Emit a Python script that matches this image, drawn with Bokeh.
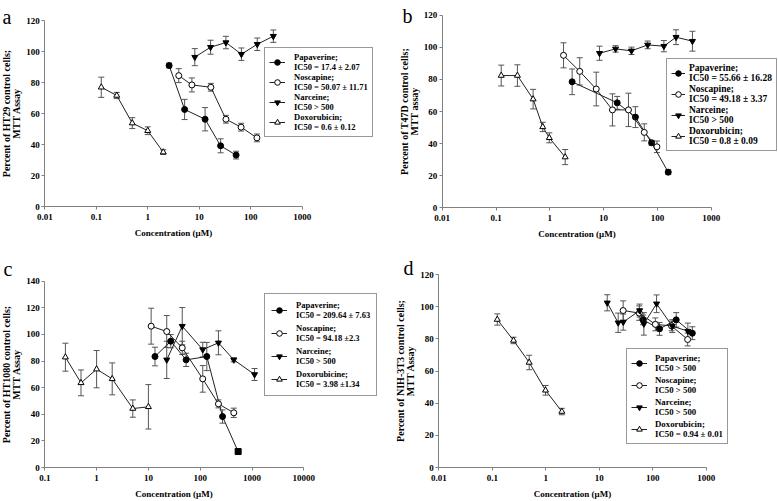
import math
from bokeh.plotting import figure
from bokeh.models import ColumnDataSource, Whisker, TeeHead, Legend, LegendItem, Label, FixedTicker
from bokeh.layouts import column, row
from bokeh.embed import file_html
from bokeh.resources import INLINE

FONT = "Liberation Serif"

# ---------------- Panel a : HT29 ----------------
a_pap_x = [2.6, 5.2, 13, 26, 52]
a_pap_y = [91, 62.7, 56.4, 39.3, 33.3]
a_pap_e = [1.5, 6.5, 7.5, 4.5, 2.5]
a_nos_x = [4, 7.2, 16.8, 33, 65, 132]
a_nos_y = [84.5, 78.5, 77, 56.4, 51.3, 44.4]
a_nos_e = [4.5, 4.5, 2.5, 2.5, 2.5, 2.5]
a_nar_x = [8.2, 16.6, 33, 66, 134, 275]
a_nar_y = [96.4, 102.8, 105.8, 98.3, 104.7, 109.9]
a_nar_e = [5.5, 4.5, 4, 4, 4, 4]
a_dox_x = [0.125, 0.25, 0.5, 1, 2]
a_dox_y = [77, 71.7, 53.9, 49, 35.2]
a_dox_e = [6.5, 2, 3.5, 2.5, 1.5]
a_labels = ["Papaverine;\nIC50 = 17.4 \u00b1 2.07", "Noscapine;\nIC50 = 50.07 \u00b1 11.71",
            "Narceine;\nIC50 > 500", "Doxorubicin;\nIC50 = 0.6 \u00b1 0.12"]

# ---------------- Panel b : T47D ----------------
b_pap_x = [2.6, 17.9, 39, 78, 159]
b_pap_y = [78.5, 65.4, 56.5, 40.5, 22.2]
b_pap_e = [8, 4, 6.5, 1.5, 1.5]
b_nos_x = [1.8, 3.6, 7.3, 14.6, 29, 57, 98]
b_nos_y = [95, 85, 74, 61, 61, 47, 38]
b_nos_e = [7.8, 8.5, 10.5, 10, 10.4, 5.3, 3.6]
b_nar_x = [8.4, 16.7, 33, 66, 132, 222, 448]
b_nar_y = [96.3, 99, 97.8, 101.5, 100.7, 106.3, 103.8]
b_nar_e = [4.4, 2, 2.3, 2.4, 3.5, 4.6, 6.2]
b_dox_x = [0.125, 0.25, 0.49, 0.74, 0.98, 1.93]
b_dox_y = [82.4, 82.4, 67.7, 50.4, 43.6, 31.6]
b_dox_e = [6.5, 6.7, 6.1, 2.9, 3.1, 4.7]
b_labels = ["Papaverine;\nIC50 = 55.66 \u00b1 16.28", "Noscapine;\nIC50 = 49.18 \u00b1 3.37",
            "Narceine;\nIC50 > 500", "Doxorubicin;\nIC50 = 0.8 \u00b1 0.09"]

# ---------------- Panel c : HT1080 ----------------
c_pap_x = [13.4, 27, 53.5, 134, 270, 540]
c_pap_y = [83.4, 94.9, 80.9, 83.4, 38.3, 12]
c_pap_e = [7, 5, 5, 10.6, 5, 0]
c_pap_m = ["circle", "circle", "circle", "circle", "circle", "square"]
c_nos_x = [11.3, 22.6, 45, 112, 225, 445]
c_nos_y = [106.2, 102.2, 89.9, 66.6, 47.8, 41.1]
c_nos_e = [13.5, 12, 5, 10, 3, 3.5]
c_nar_x = [22.6, 45, 112, 225, 445, 1120]
c_nar_y = [80.9, 106.2, 88.6, 93.7, 80.9, 69.9]
c_nar_e = [14, 14, 5.5, 9, 1.5, 4.5]
c_dox_x = [0.25, 0.5, 1, 2, 5, 10]
c_dox_y = [82.9, 63.6, 73.9, 66.6, 44.3, 45.6]
c_dox_e = [10.5, 9.7, 14, 12, 6.5, 16.7]
c_labels = ["Papaverine;\nIC50 = 209.64 \u00b1 7.63", "Noscapine;\nIC50 = 94.18 \u00b12.3",
            "Narceine;\nIC50 > 500", "Doxorubicine;\nIC50 = 3.98 \u00b11.34"]

# ---------------- Panel d : NIH-3T3 ----------------
d_pap_x = [66, 134, 275, 550]
d_pap_y = [91.8, 86.2, 91.8, 83.5]
d_pap_e = [3, 4, 4.5, 4]
d_nos_x = [28, 56, 112, 225, 450]
d_nos_y = [97.6, 96, 89, 88, 79.6]
d_nos_e = [6, 4.5, 4, 3, 4]
d_nar_x = [14.1, 22.6, 28.1, 56.8, 68.3, 118, 232, 454]
d_nar_y = [102.4, 90, 90.4, 97.6, 89.3, 101.8, 87.9, 84.8]
d_nar_e = [5, 6, 5, 4, 7, 5.5, 4, 5]
d_dox_x = [0.124, 0.25, 0.49, 0.99, 2]
d_dox_y = [92, 79, 65.3, 48, 34.8]
d_dox_e = [3.5, 2, 4.5, 3, 2]
d_labels = ["Papaverine;\nIC50 > 500", "Noscapine;\nIC50 > 500",
            "Narceine;\nIC50 > 500", "Doxorubicin;\nIC50 = 0.94 \u00b1 0.01"]

ticks_a = [0.01, 0.1, 1, 10, 100, 1000]
ticks_c = [0.1, 1, 10, 100, 1000, 10000]
tick_text_a = ["0.01", "0.1", "1", "10", "100", "1000"]
tick_text_c = ["0.1", "1", "10", "100", "1000", "10000"]

STYLES = [("circle", "black"), ("circle", "white"), ("inverted_triangle", "black"), ("triangle", "white")]


def x_range_for(fig_l, fig_r, px0, px1, v0, v1):
    a0, a1 = math.log10(v0), math.log10(v1)
    s = (a1 - a0) / (px1 - px0)
    return (10 ** (a0 - (px0 - fig_l) * s), 10 ** (a1 + (fig_r - px1) * s))


def y_range_for(fig_t, fig_b, py0, py1, v0, v1):
    s = (v1 - v0) / (py0 - py1)
    return (v0 - (fig_b - py0) * s, v1 + (py1 - fig_t) * s)


def make_panel(letter, ytitle, series, labels, xticks, xtick_text, ymax,
               fig_box, xmap, ymap, legend_loc, legend_style, letter_pos):
    l, t, r, b = fig_box
    xr = x_range_for(l, r, xmap[0], xmap[1], xticks[0], xticks[-1])
    yr = y_range_for(t, b, ymap[0], ymap[1], 0, ymax)
    p = figure(width=r - l, height=b - t, x_axis_type="log", x_range=xr, y_range=yr,
               output_backend="svg", toolbar_location=None,
               min_border_left=0, min_border_right=0, min_border_top=0, min_border_bottom=0)
    p.grid.visible = False
    p.outline_line_color = None
    p.xaxis.ticker = FixedTicker(ticks=xticks, minor_ticks=[])
    p.xaxis.major_label_overrides = {tk: s for tk, s in zip(xticks, xtick_text)}
    p.yaxis.ticker = FixedTicker(ticks=list(range(0, ymax + 1, 20)), minor_ticks=[])
    p.xaxis.fixed_location = 0
    p.yaxis.fixed_location = xticks[0]
    p.xaxis.bounds = (xticks[0], xticks[-1])
    p.yaxis.bounds = (0, ymax)
    for ax in (p.xaxis[0], p.yaxis[0]):
        ax.axis_line_color = "#808080"
        ax.major_tick_line_color = "#808080"
        ax.major_tick_out = 3
        ax.major_tick_in = 0
        ax.minor_tick_line_color = None
        ax.major_label_text_font = FONT
        ax.major_label_text_font_style = "bold"
        ax.major_label_text_font_size = "9px"
        ax.major_label_text_color = "black"
        ax.axis_label_text_font = FONT
        ax.axis_label_text_font_style = "bold"
        ax.axis_label_text_color = "black"
    p.xaxis.axis_label = "Concentration (\u03bcM)"
    p.xaxis.axis_label_text_font_size = "9px"
    p.xaxis.major_label_standoff = 4
    p.xaxis.axis_label_standoff = 5
    p.yaxis.axis_label = ytitle
    p.yaxis.axis_label_text_font_size = "10px"
    p.yaxis.axis_label_text_line_height = 0.88
    p.yaxis.major_label_standoff = 2
    p.yaxis.axis_label_standoff = 1

    items = []
    for (xs, ys, es, markers), (mk, fill), lab in zip(series, STYLES, labels):
        src = ColumnDataSource(dict(x=xs, y=ys, up=[a + e for a, e in zip(ys, es)],
                                    lo=[a - e for a, e in zip(ys, es)],
                                    m=markers if markers else [mk] * len(xs)))
        w = Whisker(base="x", upper="up", lower="lo", source=src, dimension="height",
                    line_color="#555555", line_width=1, level="underlay",
                    upper_head=TeeHead(size=6, line_color="#555555", line_width=1),
                    lower_head=TeeHead(size=6, line_color="#555555", line_width=1))
        p.add_layout(w)
        lr = p.line("x", "y", source=src, line_color="#222222", line_width=1)
        sr = p.scatter("x", "y", source=src, marker="m", size=6, fill_color=fill,
                       line_color="black", line_width=1)
        items.append(LegendItem(label=lab, renderers=[lr, sr], index=0))

    fsize, pad, spc, gw, stand = legend_style
    leg = Legend(items=items, location=legend_loc, orientation="vertical")
    leg.label_text_font = FONT
    leg.label_text_font_style = "bold"
    leg.label_text_font_size = fsize
    leg.label_text_color = "black"
    leg.label_text_line_height = 1.05
    leg.glyph_width = gw
    leg.glyph_height = 14
    leg.label_standoff = stand
    leg.padding = pad
    leg.spacing = spc
    leg.margin = 0
    leg.border_line_color = "#333333"
    leg.border_line_width = 1
    leg.background_fill_alpha = 1
    p.add_layout(leg, "center")

    p.add_layout(Label(x=letter_pos[0], y=letter_pos[1], x_units="screen", y_units="screen",
                       text=letter, text_font=FONT, text_font_size="20px",
                       text_baseline="alphabetic", text_align="left", text_color="black"))
    return p


pa = make_panel("a", "Percent of HT29 control cells;\nMTT Assay",
                [(a_pap_x, a_pap_y, a_pap_e, None), (a_nos_x, a_nos_y, a_nos_e, None),
                 (a_nar_x, a_nar_y, a_nar_e, None), (a_dox_x, a_dox_y, a_dox_e, None)],
                a_labels, ticks_a, tick_text_a, 120,
                (0, 0, 392, 250), (44.3, 301.7), (206.3, 20), (264, 113),
                ("8.5px", 4, 0, 16, 9), (2, 234))
pb = make_panel("b", "Percent of T47D control cells;\nMTT assay",
                [(b_pap_x, b_pap_y, b_pap_e, None), (b_nos_x, b_nos_y, b_nos_e, None),
                 (b_nar_x, b_nar_y, b_nar_e, None), (b_dox_x, b_dox_y, b_dox_e, None)],
                b_labels, ticks_a, tick_text_a, 120,
                (392, 0, 778, 250), (441.7, 710.7), (207.3, 14.7), (274, 99),
                ("9.5px", 4, 1, 14, 4), (10, 235))
pc = make_panel("c", "Percent of HT1080 control cells;\nMTT Assay",
                [(c_pap_x, c_pap_y, c_pap_e, c_pap_m), (c_nos_x, c_nos_y, c_nos_e, None),
                 (c_nar_x, c_nar_y, c_nar_e, None), (c_dox_x, c_dox_y, c_dox_e, None)],
                c_labels, ticks_c, tick_text_c, 140,
                (0, 250, 392, 501), (44.3, 303.3), (467, 280.7), (264, 105),
                ("8.5px", 6, 3, 16, 9), (3, 233))
pd_ = make_panel("d", "Percent of NIH-3T3 control cells;\nMTT Assay",
                 [(d_pap_x, d_pap_y, d_pap_e, None), (d_nos_x, d_nos_y, d_nos_e, None),
                  (d_nar_x, d_nar_y, d_nar_e, None), (d_dox_x, d_dox_y, d_dox_e, None)],
                 d_labels, ticks_a, tick_text_a, 120,
                 (392, 250, 778, 501), (438.3, 705.7), (467, 274), (234, 57),
                 ("8.8px", 4, 2, 16, 8), (11, 234))

layout = column(row(pa, pb), row(pc, pd_))
open("out.html", "w").write(file_html(layout, INLINE))
